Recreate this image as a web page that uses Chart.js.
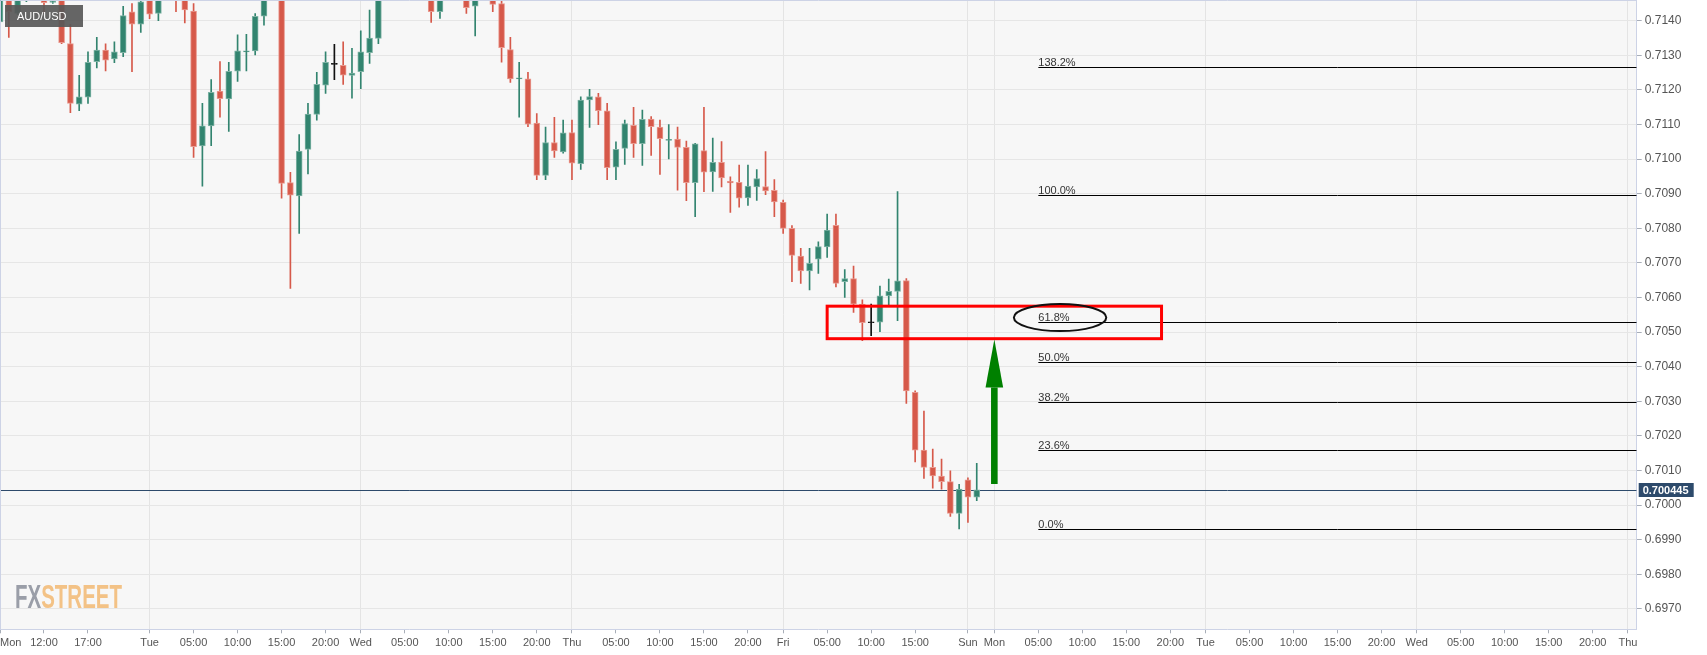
<!DOCTYPE html>
<html>
<head>
<meta charset="utf-8">
<title>AUD/USD</title>
<script src="https://cdn.jsdelivr.net/npm/chart.js@4.4.1/dist/chart.umd.min.js"></script>
<style>
  html, body { margin: 0; padding: 0; background: #fff; }
  #wrap { width: 1707px; height: 655px; }
</style>
</head>
<body>
<div id="wrap"><canvas id="chart" width="1707" height="655"></canvas></div>
<script>
// hourly candles, weekend hours skipped; slot 0 = Mon 00:00
const firstSlot = 7;
const opens = [
  0.71397, 0.71475, 0.71421, 0.71460, 0.71475, 0.71470, 0.71453, 0.71462, 0.71334, 0.71159,
  0.71179, 0.71282, 0.71315, 0.71290, 0.71308, 0.71426, 0.71390, 0.71462, 0.71421, 0.71465,
  0.71495, 0.71470, 0.71428, 0.71038, 0.71096, 0.71197, 0.71174, 0.71254, 0.71310, 0.71313,
  0.71413, 0.71470, 0.71490, 0.70932, 0.70894, 0.71028, 0.71129, 0.71214, 0.71274, 0.71271,
  0.71242, 0.71253, 0.71308, 0.71349, 0.71475, 0.71500, 0.71490, 0.71510, 0.71495, 0.71480,
  0.71426, 0.71465, 0.71480, 0.71470, 0.71442, 0.71470, 0.71490, 0.71450, 0.71317, 0.71232,
  0.71232, 0.71104, 0.70953, 0.71048, 0.71021, 0.71077, 0.70987, 0.71171, 0.71180, 0.71140,
  0.70977, 0.71031, 0.71098, 0.71045, 0.71116, 0.71093, 0.71054, 0.71058, 0.71034, 0.70932,
  0.71025, 0.70963, 0.70991, 0.70936, 0.70933, 0.70888, 0.70920, 0.70921, 0.70910, 0.70875,
  0.70800, 0.70720, 0.70677, 0.70711, 0.70746, 0.70809, 0.70646, 0.70655, 0.70581, 0.70527,
  0.70529, 0.70605, 0.70618, 0.70649, 0.70326, 0.70159, 0.70109, 0.70084, 0.70068, 0.69976,
  0.70073, 0.70023
];
const highs = [
  0.71480, 0.71490, 0.71470, 0.71485, 0.71490, 0.71490, 0.71465, 0.71475, 0.71390, 0.71242,
  0.71310, 0.71352, 0.71333, 0.71339, 0.71442, 0.71450, 0.71462, 0.71475, 0.71480, 0.71510,
  0.71510, 0.71485, 0.71450, 0.71161, 0.71230, 0.71282, 0.71280, 0.71359, 0.71361, 0.71421,
  0.71490, 0.71520, 0.71520, 0.70962, 0.71071, 0.71161, 0.71251, 0.71310, 0.71332, 0.71339,
  0.71320, 0.71371, 0.71431, 0.71495, 0.71520, 0.71515, 0.71530, 0.71525, 0.71505, 0.71500,
  0.71480, 0.71495, 0.71490, 0.71485, 0.71480, 0.71505, 0.71500, 0.71470, 0.71352, 0.71280,
  0.71251, 0.71132, 0.71093, 0.71121, 0.71113, 0.71113, 0.71180, 0.71202, 0.71190, 0.71161,
  0.71050, 0.71113, 0.71150, 0.71142, 0.71123, 0.71113, 0.71100, 0.71093, 0.71052, 0.71046,
  0.71150, 0.71061, 0.71051, 0.70949, 0.70983, 0.70983, 0.70970, 0.71022, 0.70941, 0.70882,
  0.70808, 0.70742, 0.70742, 0.70761, 0.70841, 0.70841, 0.70681, 0.70691, 0.70593, 0.70581,
  0.70633, 0.70653, 0.70906, 0.70655, 0.70330, 0.70272, 0.70162, 0.70133, 0.70099, 0.70060,
  0.70079, 0.70121
];
const lows = [
  0.71390, 0.71352, 0.71418, 0.71455, 0.71460, 0.71421, 0.71450, 0.71334, 0.71134, 0.71140,
  0.71161, 0.71264, 0.71255, 0.71279, 0.71296, 0.71253, 0.71366, 0.71406, 0.71400, 0.71462,
  0.71426, 0.71394, 0.71005, 0.70922, 0.71039, 0.71121, 0.71080, 0.71225, 0.71255, 0.71301,
  0.71387, 0.71465, 0.70887, 0.70626, 0.70785, 0.70957, 0.71113, 0.71190, 0.71230, 0.71216,
  0.71176, 0.71204, 0.71277, 0.71334, 0.71465, 0.71480, 0.71480, 0.71485, 0.71475, 0.71395,
  0.71407, 0.71462, 0.71463, 0.71421, 0.71356, 0.71462, 0.71426, 0.71280, 0.71222, 0.71121,
  0.71094, 0.70941, 0.70941, 0.71005, 0.71017, 0.70941, 0.70970, 0.71092, 0.71100, 0.70941,
  0.70941, 0.70985, 0.71005, 0.70982, 0.71011, 0.70956, 0.71001, 0.70910, 0.70880, 0.70834,
  0.70906, 0.70907, 0.70920, 0.70846, 0.70861, 0.70866, 0.70881, 0.70897, 0.70834, 0.70785,
  0.70646, 0.70641, 0.70622, 0.70670, 0.70716, 0.70631, 0.70600, 0.70557, 0.70475, 0.70490,
  0.70501, 0.70578, 0.70533, 0.70294, 0.70125, 0.70077, 0.70049, 0.70046, 0.69967, 0.69931,
  0.69950, 0.70013
];
const closes = [
  0.71470, 0.71426, 0.71460, 0.71475, 0.71465, 0.71452, 0.71457, 0.71337, 0.71161, 0.71180,
  0.71280, 0.71315, 0.71286, 0.71310, 0.71415, 0.71390, 0.71455, 0.71419, 0.71465, 0.71490,
  0.71470, 0.71431, 0.71036, 0.71096, 0.71193, 0.71175, 0.71254, 0.71313, 0.71313, 0.71413,
  0.71470, 0.71500, 0.70930, 0.70896, 0.71023, 0.71130, 0.71216, 0.71280, 0.71274, 0.71243,
  0.71249, 0.71310, 0.71350, 0.71475, 0.71500, 0.71490, 0.71510, 0.71495, 0.71485, 0.71426,
  0.71465, 0.71480, 0.71470, 0.71438, 0.71470, 0.71490, 0.71447, 0.71322, 0.71232, 0.71234,
  0.71101, 0.70953, 0.71048, 0.71024, 0.71076, 0.70988, 0.71171, 0.71181, 0.71140, 0.70975,
  0.71028, 0.71103, 0.71045, 0.71115, 0.71094, 0.71059, 0.71057, 0.71034, 0.70932, 0.71044,
  0.70962, 0.70991, 0.70946, 0.70931, 0.70887, 0.70922, 0.70944, 0.70908, 0.70876, 0.70800,
  0.70722, 0.70677, 0.70699, 0.70747, 0.70795, 0.70641, 0.70655, 0.70581, 0.70527, 0.70527,
  0.70605, 0.70618, 0.70648, 0.70330, 0.70159, 0.70109, 0.70084, 0.70068, 0.69976, 0.70046,
  0.70023, 0.700445
];

const xTickSlots = [7, 12, 17, 24, 29, 34, 39, 44, 48, 53, 58, 63, 68, 72, 77, 82, 87, 92, 96, 101, 106, 111,
  117, 120, 125, 130, 135, 140, 144, 149, 154, 159, 164, 168, 173, 178, 183, 188, 192];
const xTickLabels = ['Mon', '12:00', '17:00', 'Tue', '05:00', '10:00', '15:00', '20:00', 'Wed', '05:00', '10:00', '15:00', '20:00',
  'Thu', '05:00', '10:00', '15:00', '20:00', 'Fri', '05:00', '10:00', '15:00',
  'Sun', 'Mon', '05:00', '10:00', '15:00', '20:00', 'Tue', '05:00', '10:00', '15:00', '20:00',
  'Wed', '05:00', '10:00', '15:00', '20:00', 'Thu'];
const dayStartSlots = [24, 48, 72, 96, 117, 120, 144, 168, 192];

const fibLevels = [0.69930, 0.70158, 0.70299, 0.70414, 0.70528, 0.70897, 0.71265];
const fibLabels = ['0.0%', '23.6%', '38.2%', '50.0%', '61.8%', '100.0%', '138.2%'];
const fibStartSlot = 125;

const lastPrice = 0.700445;
const symbol = 'AUD/USD';

// drawn annotations (slot / price coordinates)
const zoneBox = {x0: 101, x1: 139, top: 0.70575, bottom: 0.70481};
const ringMark = {x: 127.47, y: 0.70542, rx: 5.25, ry: 0.00039};
const arrowMark = {x: 120, from: 0.70061, headBase: 0.70340, tip: 0.70479};

const UP = '#32846f', DOWN = '#d6594a', FLAT = '#111111';
const UP_EDGE = '#7fb3a5', DOWN_EDGE = '#e99a90';

function candleColor(k, up, down, flat) {
  if (closes[k] > opens[k]) return up;
  if (closes[k] < opens[k]) return down;
  return flat;
}

const bodies = opens.map((o, k) => ({x: firstSlot + k, y: [o, closes[k]]}));
const wicks = lows.map((l, k) => ({x: firstSlot + k, y: [l, highs[k]]}));

const fontFamily = '"Liberation Sans", Arial, sans-serif';
Chart.defaults.font.family = fontFamily;

const frame = {
  id: 'frame',
  beforeDraw(chart) {
    const {ctx, chartArea: a} = chart;
    ctx.save();
    ctx.fillStyle = '#ffffff';
    ctx.fillRect(0, 0, chart.width, chart.height);
    ctx.fillStyle = '#f7f7f7';
    ctx.fillRect(a.left, a.top, a.width, a.height);
    ctx.restore();
  },
  beforeDatasetsDraw(chart) {
    const {ctx, chartArea: a, scales: {x, y}} = chart;
    ctx.save();
    // logo
    ctx.font = 'bold 34px "Liberation Sans Narrow", "Liberation Sans", sans-serif';
    ctx.textBaseline = 'alphabetic';
    const fx = ctx.measureText('FX').width;
    const full = ctx.measureText('FXSTREET').width;
    const sx = 107 / full;
    ctx.translate(a.left + 15, a.bottom - 21);
    ctx.scale(sx, 1);
    ctx.fillStyle = '#9a9ea8';
    ctx.fillText('FX', 0, 0);
    ctx.fillStyle = '#f3c286';
    ctx.fillText('STREET', fx, 0);
    ctx.restore();

    ctx.save();
    ctx.beginPath();
    ctx.rect(a.left, a.top, a.width, a.height);
    ctx.clip();
    // fibonacci levels
    const xs = x.getPixelForValue(fibStartSlot);
    ctx.strokeStyle = '#000';
    ctx.lineWidth = 1;
    ctx.fillStyle = '#333';
    ctx.font = '11px ' + fontFamily;
    ctx.textBaseline = 'alphabetic';
    fibLevels.forEach((lv, k) => {
      const py = Math.round(y.getPixelForValue(lv)) + 0.5;
      ctx.beginPath();
      ctx.moveTo(xs, py);
      ctx.lineTo(a.right, py);
      ctx.stroke();
      ctx.fillText(fibLabels[k], xs, py - 2);
    });
    // last price line
    const pp = Math.round(y.getPixelForValue(lastPrice)) + 0.5;
    ctx.strokeStyle = '#2d4a6b';
    ctx.beginPath();
    ctx.moveTo(a.left, pp);
    ctx.lineTo(a.right, pp);
    ctx.stroke();
    ctx.restore();
  },
  afterDatasetsDraw(chart) {
    const {ctx, chartArea: a, scales: {x, y}} = chart;
    ctx.save();
    // red zone
    ctx.strokeStyle = '#ff0000';
    ctx.lineWidth = 3;
    const bx0 = x.getPixelForValue(zoneBox.x0), bx1 = x.getPixelForValue(zoneBox.x1);
    const by0 = y.getPixelForValue(zoneBox.top), by1 = y.getPixelForValue(zoneBox.bottom);
    ctx.strokeRect(bx0, by0, bx1 - bx0, by1 - by0);
    // ellipse round 61.8%
    const cx = x.getPixelForValue(ringMark.x), cy = y.getPixelForValue(ringMark.y);
    const rx = x.getPixelForValue(ringMark.x + ringMark.rx) - cx;
    const ry = y.getPixelForValue(ringMark.y - ringMark.ry) - cy;
    ctx.strokeStyle = '#111';
    ctx.lineWidth = 2;
    ctx.beginPath();
    ctx.ellipse(cx, cy, rx, ry, 0, 0, Math.PI * 2);
    ctx.stroke();
    // green arrow
    const ax = x.getPixelForValue(arrowMark.x);
    const ay0 = y.getPixelForValue(arrowMark.from);
    const ay1 = y.getPixelForValue(arrowMark.headBase);
    const ay2 = y.getPixelForValue(arrowMark.tip);
    ctx.fillStyle = '#008000';
    ctx.fillRect(ax - 3.3, ay1, 6.6, ay0 - ay1);
    ctx.beginPath();
    ctx.moveTo(ax - 8.8, ay1);
    ctx.lineTo(ax + 8.8, ay1);
    ctx.lineTo(ax, ay2);
    ctx.closePath();
    ctx.fill();
    // borders
    ctx.strokeStyle = '#cdd3e6';
    ctx.lineWidth = 1;
    ctx.beginPath();
    ctx.moveTo(a.left + 0.5, a.bottom);
    ctx.lineTo(a.left + 0.5, a.top + 0.5);
    ctx.lineTo(a.right, a.top + 0.5);
    ctx.stroke();
    // symbol tag
    ctx.fillStyle = 'rgba(88,88,88,0.92)';
    ctx.fillRect(a.left + 5, a.top + 5, 78, 22);
    ctx.fillStyle = '#fff';
    ctx.font = '11px ' + fontFamily;
    ctx.textBaseline = 'middle';
    ctx.fillText(symbol, a.left + 17, a.top + 16.5);
    ctx.restore();
  },
  afterDraw(chart) {
    const {ctx, chartArea: a, scales: {y}} = chart;
    const py = Math.round(y.getPixelForValue(lastPrice));
    ctx.save();
    ctx.fillStyle = '#2d4a6b';
    ctx.fillRect(a.right + 2, py - 7, 55, 14);
    ctx.fillStyle = '#fff';
    ctx.font = 'bold 11px ' + fontFamily;
    ctx.textBaseline = 'middle';
    ctx.fillText(lastPrice.toFixed(6), a.right + 6, py + 0.5);
    ctx.restore();
  }
};

function noLabelPadding(s) {
  s.paddingTop = 0;
  s.paddingBottom = 0;
  s.paddingLeft = 0;
  s.paddingRight = 0;
}

new Chart(document.getElementById('chart'), {
  type: 'bar',
  data: {
    datasets: [
      {
        label: 'body',
        data: bodies,
        order: 0,
        grouped: false,
        barThickness: 6,
        minBarLength: 1,
        borderWidth: 1,
        borderSkipped: false,
        backgroundColor: bodies.map((_, k) => candleColor(k, UP, DOWN, FLAT)),
        borderColor: bodies.map((_, k) => candleColor(k, UP_EDGE, DOWN_EDGE, FLAT))
      },
      {
        label: 'wick',
        data: wicks,
        order: 1,
        grouped: false,
        barThickness: 1,
        borderWidth: 0,
        backgroundColor: wicks.map((_, k) => candleColor(k, UP, DOWN, FLAT))
      }
    ]
  },
  options: {
    responsive: false,
    animation: false,
    events: [],
    layout: {padding: 0, autoPadding: false},
    plugins: {legend: {display: false}, tooltip: {enabled: false}},
    scales: {
      x: {
        type: 'linear',
        position: 'bottom',
        min: 7,
        max: 193,
        offset: false,
        afterBuildTicks: s => {
          s.ticks = xTickSlots.concat([193]).map(v => ({value: v}));
        },
        afterFit: s => { s.height = 25.7; noLabelPadding(s); },
        border: {color: '#cdd3e6'},
        grid: {
          offset: false,
          color: c => (c.tick && dayStartSlots.includes(c.tick.value)) ? '#e4e4e4' : 'rgba(0,0,0,0)',
          tickColor: c => (c.tick && xTickSlots.includes(c.tick.value)) ? '#a8aeb8' : 'rgba(0,0,0,0)',
          tickLength: 4,
          lineWidth: 1
        },
        ticks: {
          autoSkip: false,
          maxRotation: 0,
          align: 'inner',
          padding: 3,
          color: '#555',
          font: {size: 11},
          callback: v => {
            const k = xTickSlots.indexOf(v);
            return k >= 0 ? xTickLabels[k] : '';
          }
        }
      },
      y: {
        position: 'right',
        min: 0.69641,
        max: 0.71460,
        afterFit: s => { s.width = 70.3; noLabelPadding(s); },
        border: {color: '#cdd3e6'},
        grid: {color: '#e6e6e6', tickLength: 5, tickColor: '#a8aeb8'},
        ticks: {
          stepSize: 0.001,
          maxTicksLimit: 100,
          includeBounds: false,
          padding: 3,
          color: '#555',
          font: {size: 12},
          callback: v => v.toFixed(4)
        }
      }
    }
  },
  plugins: [frame]
});
</script>
</body>
</html>
